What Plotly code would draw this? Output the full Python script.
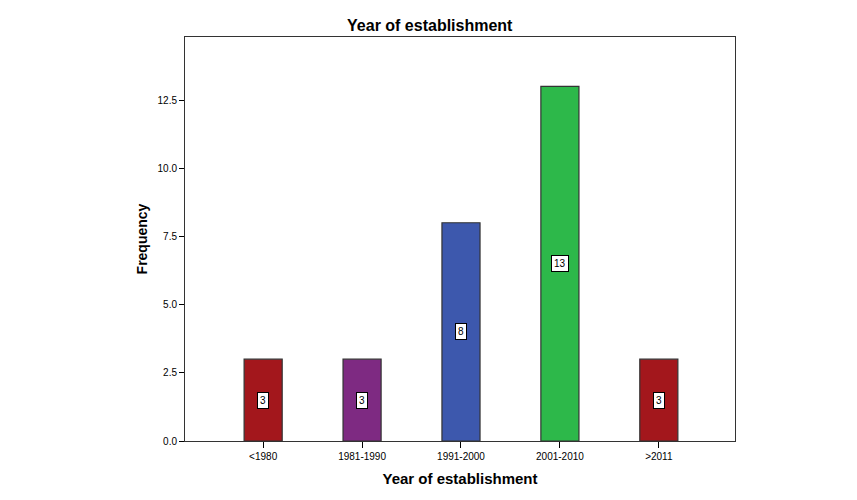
import plotly.graph_objects as go

categories = ["<1980", "1981-1990", "1991-2000", "2001-2010", ">2011"]
frequency = [3, 3, 8, 13, 3]
bar_colors = ["#a3171c", "#7e2a82", "#3d58ad", "#2db84a", "#a3171c"]

fig = go.Figure()
fig.add_trace(go.Bar(
    x=list(range(len(categories))),
    y=frequency,
    width=0.385,
    marker=dict(color=bar_colors, line=dict(color="#333333", width=1.2)),
    hoverinfo="y",
))

# value labels in white boxes at half height
for i, v in enumerate(frequency):
    fig.add_annotation(x=i, y=v / 2, text=str(v), showarrow=False,
                       font=dict(family="Liberation Sans, Arial", size=10, color="black"),
                       bgcolor="white", bordercolor="black", borderwidth=1, borderpad=2)

fig.update_layout(
    width=857, height=500,
    margin=dict(l=177, r=130, t=29, b=67),
    paper_bgcolor="white", plot_bgcolor="white",
    showlegend=False,
    title=dict(text="<b>Year of establishment</b>", x=0.445, xref="paper", xanchor="center",
               y=1 - 17 / 500, yanchor="middle",
               font=dict(family="Liberation Sans, Arial", size=16, color="black")),
    font=dict(family="Liberation Sans, Arial", size=10, color="black"),
    xaxis=dict(
        range=[-0.79, 4.77],
        tickvals=list(range(len(categories))), ticktext=categories,
        ticks="outside", ticklen=6, tickcolor="black",
        showline=True, linecolor="#333333", linewidth=1, mirror=True,
        showgrid=False, zeroline=False,
        title=dict(text="<b>Year of establishment</b>", standoff=12,
                   font=dict(size=15, family="Liberation Sans, Arial")),
        tickfont=dict(size=10),
    ),
    yaxis=dict(
        range=[0, 14.81],
        tickvals=[0, 2.5, 5, 7.5, 10, 12.5],
        ticktext=["0.0", "2.5", "5.0", "7.5", "10.0", "12.5"],
        ticks="outside", ticklen=5, tickcolor="black",
        showline=True, linecolor="#333333", linewidth=1, mirror=True,
        showgrid=False, zeroline=False,
        title=dict(text="<b>Frequency</b>", standoff=6,
                   font=dict(size=14, family="Liberation Sans, Arial")),
        tickfont=dict(size=10),
    ),
)

fig.write_html("out.html")
